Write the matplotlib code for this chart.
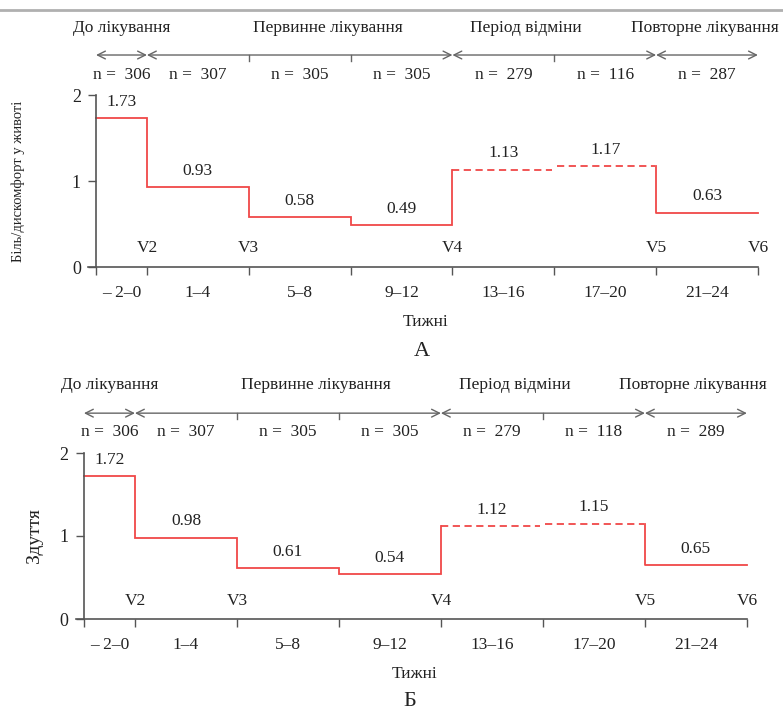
import matplotlib
matplotlib.use("Agg")
import matplotlib.pyplot as plt

# ---------------- data ----------------
week_edges = [-2, 0, 4, 8, 12, 16, 20, 24]
period_labels = ["– 2–0", "1–4", "5–8", "9–12", "13–16", "17–20", "21–24"]
pain_values = [1.73, 0.93, 0.58, 0.49, 1.13, 1.17, 0.63]
bloat_values = [1.72, 0.98, 0.61, 0.54, 1.12, 1.15, 0.65]
n_pain = [306, 307, 305, 305, 279, 116, 287]
n_bloat = [306, 307, 305, 305, 279, 118, 289]
visit_labels = ["V2", "V3", "V4", "V5", "V6"]
visit_weeks = [0, 4, 12, 20, 24]
phase_names = ["До лікування", "Первинне лікування", "Період відміни", "Повторне лікування"]
phase_bounds = [(-2, 0), (0, 12), (12, 20), (20, 24)]
phase_label_x = [-1.0, 7.1, 14.9, 21.9]
y_ticks = [0, 1, 2]
ylabels = ["Біль/дискомфорт у животі", "Здуття"]
panel_letters = ["А", "Б"]

plt.rcParams['font.family'] = ['Liberation Serif', 'DejaVu Serif']
TXT = "#222222"
AX = "#555555"
RED = "#f04848"
ARR = "#666666"
FS = 12.5

fig = plt.figure(figsize=(7.83, 7.12), dpi=100)

# top gray rule
fig.add_artist(plt.Line2D([0, 1], [1 - 10/712, 1 - 10/712], color="#b0b0b0", lw=2,
                          transform=fig.transFigure))

def draw_panel(rect, values, ns, ylabel, ylabel_fs, letter, arrow_y, n_y, phase_y, letter_y, ylabel_x):
    ax = fig.add_axes(rect)
    ax.set_xlim(-2.3, 24.2)
    ax.set_ylim(0, 2)
    for s in ["top", "right"]:
        ax.spines[s].set_visible(False)
    ax.spines["left"].set_position(("data", -2))
    ax.spines["left"].set_bounds(0, 2)
    ax.spines["bottom"].set_bounds(-2.3, 24)
    for s in ["left", "bottom"]:
        ax.spines[s].set_color(AX)
        ax.spines[s].set_linewidth(1.2)
    ax.set_yticks(y_ticks)
    ax.set_yticklabels([str(t) for t in y_ticks], fontsize=FS + 0.5, color=TXT)
    ax.tick_params(axis="y", length=6, width=1, color=AX, pad=5)
    mids = [(a + b) / 2 for a, b in zip(week_edges[:-1], week_edges[1:])]
    ax.set_xticks(week_edges)
    ax.set_xticklabels([""] * len(week_edges))
    ax.tick_params(axis="x", which="major", length=6, width=1, color=AX)
    ax.set_xticks(mids, minor=True)
    ax.set_xticklabels(period_labels, minor=True, fontsize=FS, color=TXT)
    ax.tick_params(axis="x", which="minor", length=0, pad=13)
    ax.set_xlabel("Тижні", fontsize=FS, color=TXT, labelpad=9)
    ax.set_ylabel(ylabel, fontsize=ylabel_fs, color=TXT)
    ax.yaxis.set_label_coords(ylabel_x, 0.5)

    # solid step part (weeks -2 .. 12 then rise)
    xs, ys = [week_edges[0]], [values[0]]
    for i in range(1, 5):
        xs += [week_edges[i], week_edges[i]]
        ys += [values[i - 1], values[i]]
    ax.plot(xs, ys, color=RED, lw=1.3, solid_joinstyle="miter", clip_on=False)
    # dashed withdrawal segments
    ax.plot([week_edges[4], week_edges[5] - 0.1], [values[4], values[4]], color=RED, lw=1.3,
            dashes=(4, 2.5), clip_on=False)
    ax.plot([week_edges[5] + 0.1, week_edges[6] - 0.05], [values[5], values[5]], color=RED, lw=1.3,
            dashes=(4, 2.5), clip_on=False)
    # re-treatment
    ax.plot([week_edges[6], week_edges[6], week_edges[7]], [values[5], values[6], values[6]],
            color=RED, lw=1.3, clip_on=False)

    # value labels
    for m, v in zip(mids, values):
        ax.annotate(f"{v:.2f}", (m, v), xytext=(0, 6), textcoords="offset points",
                    ha="center", va="bottom", fontsize=FS, color=TXT)
    # visit labels
    for w, lab in zip(visit_weeks, visit_labels):
        ax.text(w, 0.22, lab, ha="center", va="center", fontsize=FS, color=TXT)

    # phase arrows
    for (a, b) in phase_bounds:
        ax.annotate("", xy=(b, arrow_y), xytext=(a, arrow_y),
                    arrowprops=dict(arrowstyle="<->", color=ARR, lw=1.0, shrinkA=0, shrinkB=0,
                                    mutation_scale=14),
                    annotation_clip=False)
    bounds = [e for pb in phase_bounds for e in pb]
    for w in week_edges:
        if w in bounds:
            continue
        ax.plot([w, w], [arrow_y, arrow_y - 0.07], color=ARR, lw=1.0, clip_on=False)
    for x, name in zip(phase_label_x, phase_names):
        ax.text(x, phase_y, name, ha="center", va="center", fontsize=FS, color=TXT)
    for m, n in zip(mids, ns):
        ax.text(m, n_y, f"n =  {n}", ha="center", va="center", fontsize=FS, color=TXT)

    fig.text(rect[0] + rect[2] / 2 - 0.005, letter_y, letter, ha="center", va="center",
             fontsize=16, color=TXT)
    return ax

# Panel A: -2 -> px 96, 24 -> px 758 ; y 0 -> 267, 2 -> 95
rectA = [88.4 / 783, 1 - 267 / 712, (763 - 88.4) / 783, 172 / 712]
draw_panel(rectA, pain_values, n_pain, ylabels[0], 10.5, panel_letters[0],
           arrow_y=2.465, n_y=2.23, phase_y=2.78, letter_y=1 - 352 / 712, ylabel_x=-0.094)

# Panel B: -2 -> px 84, 24 -> px 747 ; y 0 -> 619, 2 -> 453
rectB = [76.3 / 783, 1 - 619 / 712, (752 - 76.3) / 783, 166 / 712]
draw_panel(rectB, bloat_values, n_bloat, ylabels[1], 14, panel_letters[1],
           arrow_y=2.48, n_y=2.25, phase_y=2.82, letter_y=1 - 701 / 712, ylabel_x=-0.05)

fig.savefig("out.png", dpi=100)
